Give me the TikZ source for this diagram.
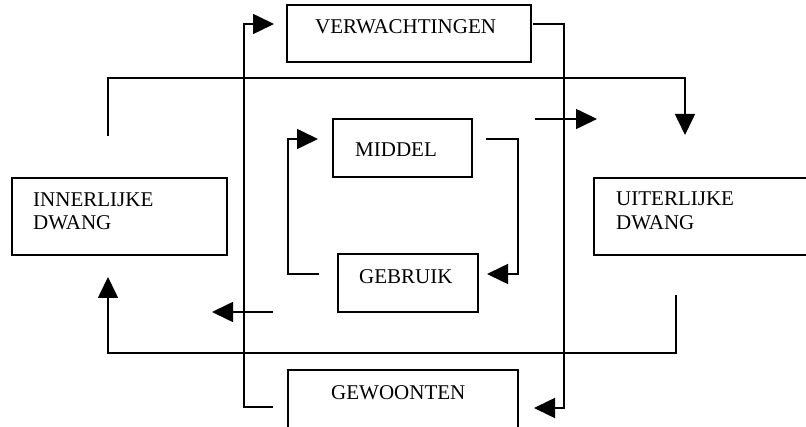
\documentclass[tikz,border=0pt]{standalone}
\usepackage{fontspec}
\setmainfont{Liberation Serif}
\usetikzlibrary{arrows.meta}
\begin{document}
\begin{tikzpicture}[x=1pt,y=-1pt,
  box/.style={draw,line width=1.4pt,inner sep=0pt,minimum width=#1},
  lbl/.style={anchor=base west,inner sep=0pt,font=\fontsize{21}{23}\selectfont},
  conn/.style={line width=1.6pt},
  arr/.style={conn,-{Triangle[length=21pt,width=20pt]}}]
\useasboundingbox (0,0) rectangle (806,427);
% boxes
\node[box=244,minimum height=57] (verw) at (409,33.5) {};
\node[box=215,minimum height=77] (inner) at (119.5,216.5) {};
\node[box=214,minimum height=77] (uiter) at (701,216.5) {};
\node[box=139,minimum height=58] (middel) at (402.5,148) {};
\node[box=140,minimum height=58] (gebruik) at (408,283) {};
\node[box=230,minimum height=60] (gew) at (403,400) {};
% texts
\node[lbl] (tverw) at (315,34) {VERWACHTINGEN};
\node[lbl] (tin1) at (33,207) {INNERLIJKE};
\node[lbl] (tin2) at (33,230) {DWANG};
\node[lbl] (tui1) at (616,206) {UITERLIJKE};
\node[lbl] (tui2) at (616,230) {DWANG};
\node[lbl] (tmid) at (355,157) {MIDDEL};
\node[lbl] (tgeb) at (359,284) {GEBRUIK};
\node[lbl] (tgew) at (331,400) {GEWOONTEN};
% coordinates
\coordinate (a1s) at (273,407);
\coordinate (a1c) at (244,24);
\coordinate (a1e) at (274,24);
\coordinate (a2s) at (533,24);
\coordinate (a2c) at (564,408);
\coordinate (a2e) at (534,408);
\coordinate (a3s) at (108,136);
\coordinate (a3c) at (685,78);
\coordinate (a3e) at (685,135);
\coordinate (a4s) at (676,295);
\coordinate (a4c) at (108,353);
\coordinate (a4e) at (108,277);
\coordinate (a5s) at (535,119);
\coordinate (a5e) at (597,119);
\coordinate (a6s) at (273,312);
\coordinate (a6e) at (212,312);
\coordinate (a7s) at (486,139);
\coordinate (a7c) at (518,274);
\coordinate (a7e) at (487,274);
\coordinate (a8s) at (319,274);
\coordinate (a8c) at (288,139);
\coordinate (a8e) at (318,139);
% connectors
\draw[arr] (a1s) -| (a1c) -- (a1e);
\draw[arr] (a2s) -| (a2c) -- (a2e);
\draw[arr] (a3s) |- (a3c) -- (a3e);
\draw[arr] (a4s) |- (a4c) -- (a4e);
\draw[arr] (a5s) -- (a5e);
\draw[arr] (a6s) -- (a6e);
\draw[arr] (a7s) -| (a7c) -- (a7e);
\draw[arr] (a8s) -| (a8c) -- (a8e);
\end{tikzpicture}
\end{document}
